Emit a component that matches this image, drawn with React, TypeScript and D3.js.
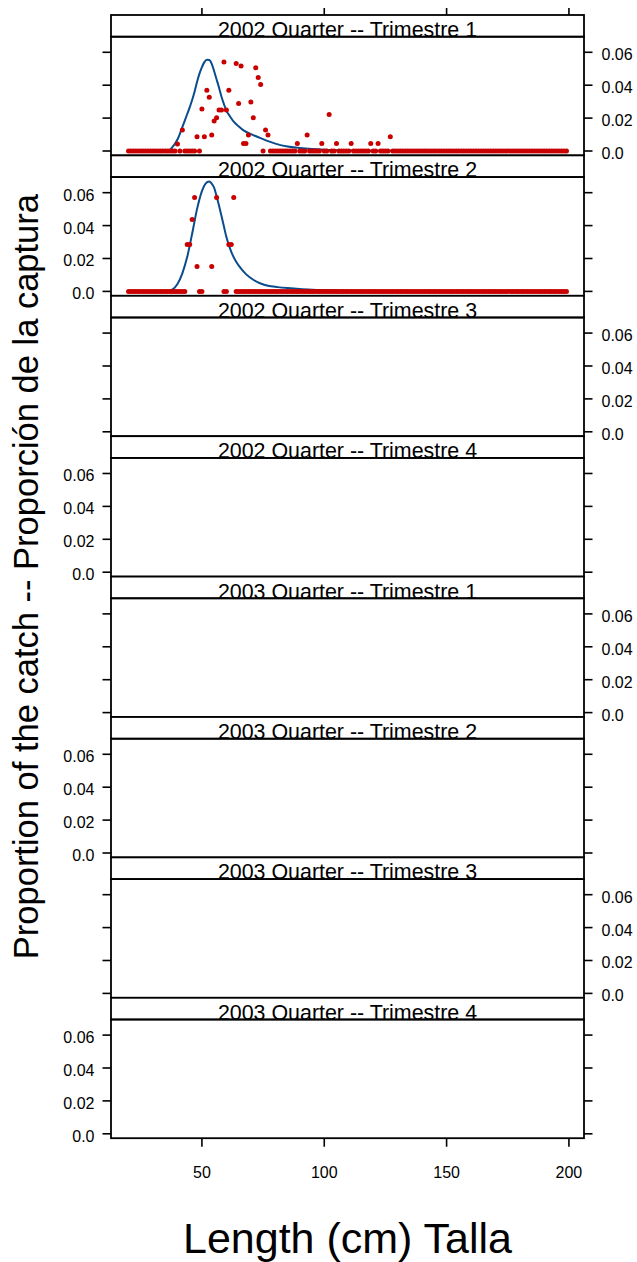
import React from "react";
import * as d3 from "d3";

// ---------- data ----------
const panelTitles = [
  "2002 Quarter -- Trimestre 1",
  "2002 Quarter -- Trimestre 2",
  "2002 Quarter -- Trimestre 3",
  "2002 Quarter -- Trimestre 4",
  "2003 Quarter -- Trimestre 1",
  "2003 Quarter -- Trimestre 2",
  "2003 Quarter -- Trimestre 3",
  "2003 Quarter -- Trimestre 4",
];

const lengthExtent: [number, number] = [20, 199];
const xTicks = [50, 100, 150, 200];
const yTicks = [0, 0.02, 0.04, 0.06];
const yTickLabels = ["0.0", "0.02", "0.04", "0.06"];

// observed proportions (non-zero) by length, 2002 Q1
const obs2002Q1: [number, number][] = [
  [40, 0.0043], [42, 0.0127], [48, 0.0087], [50, 0.0255], [51, 0.0087],
  [52, 0.037], [53, 0.0326], [54, 0.0097], [55, 0.0183], [56, 0.0202],
  [57, 0.0249], [58, 0.0249], [59, 0.0541], [60, 0.0249], [61, 0.037],
  [64, 0.0532], [65, 0.0289], [66, 0.0516], [67, 0.0045], [68, 0.0045],
  [69, 0.0097], [70, 0.0298], [71, 0.0202], [72, 0.0506], [73, 0.0447],
  [74, 0.0404], [76, 0.0127], [77, 0.0097], [89, 0.0045], [93, 0.0097],
  [99, 0.0045], [102, 0.0222], [105, 0.0045], [111, 0.0045], [119, 0.0045],
  [122, 0.0045], [127, 0.0087],
];
// lengths with observed proportion 0 (inclusive ranges), 2002 Q1
const zeros2002Q1: [number, number][] = [
  [20, 39], [41, 41], [43, 47], [49, 49], [75, 75], [78, 88], [90, 92],
  [94, 98], [100, 101], [103, 104], [106, 110], [112, 118], [120, 121],
  [123, 126], [128, 199],
];
// fitted proportion, 2002 Q1
const fit2002Q1: [number, number][] = [
  [20, 0], [33, 0], [35, 0.0002], [37, 0.0008], [38, 0.0025], [39, 0.0045],
  [40, 0.007], [41, 0.0105], [42, 0.0145], [43, 0.0185], [44, 0.0225],
  [45, 0.0265], [46, 0.031], [47, 0.036], [48, 0.042], [49, 0.047],
  [50, 0.051], [51, 0.054], [52, 0.0555], [53, 0.0553], [54, 0.053],
  [55, 0.0485], [56, 0.0435], [57, 0.0385], [58, 0.033], [59, 0.0285],
  [60, 0.0245], [61.5, 0.021], [63, 0.0178], [65, 0.015], [67, 0.0125],
  [71, 0.0097], [74, 0.0078], [77, 0.006], [80, 0.0045], [85, 0.0027],
  [90, 0.0018], [95, 0.0012], [100, 0.0008], [110, 0.0004], [120, 0.0002],
  [140, 0.0001], [160, 0], [199, 0],
];

const obs2002Q2: [number, number][] = [
  [44, 0.0285], [45, 0.0285], [46, 0.0437], [47, 0.0571], [48, 0.0152],
  [54, 0.0152], [56, 0.0571], [61, 0.0285], [62, 0.0285], [63, 0.0571],
];
const zeros2002Q2: [number, number][] = [[20, 43], [49, 50], [59, 60], [64, 199]];
const fit2002Q2: [number, number][] = [
  [20, 0], [34, 0], [36, 0.0003], [38, 0.0012], [40, 0.0045], [42, 0.011],
  [44, 0.021], [46, 0.035], [48, 0.05], [50, 0.061], [52, 0.0663],
  [53, 0.0668], [54, 0.0655], [55, 0.063], [56, 0.0578], [57, 0.052],
  [58, 0.0458], [59, 0.0394], [60, 0.033], [62, 0.024], [64, 0.018],
  [66, 0.0138], [68, 0.0105], [71, 0.0071], [74, 0.0048], [77, 0.0034],
  [81, 0.0026], [85, 0.002], [90, 0.0014], [95, 0.001], [105, 0.0005],
  [120, 0.0002], [150, 0], [199, 0],
];

const xTitle = "Length (cm) Talla";
const yTitle = "Proportion of the catch -- Proporción de la captura";

// ---------- layout ----------
const W = 637;
const H = 1262;
const LEFT = 111;
const RIGHT = 584;
const TOP = 15;
const STRIP_H = 21.7;
const BODY_H = 118.7;
const PERIOD = STRIP_H + BODY_H;
const TICK = 8.5;
const FONT = "'Liberation Sans', Arial, Helvetica, sans-serif";
const RED = "#c80000";
const BLUE = "#0b4c8c";

function expandZeros(ranges: [number, number][]): [number, number][] {
  const out: [number, number][] = [];
  ranges.forEach(([a, b]) => d3.range(a, b + 1).forEach((l) => out.push([l, 0])));
  return out;
}

const panels = panelTitles.map((title, i) => {
  if (i === 0) return { title, obs: [...expandZeros(zeros2002Q1), ...obs2002Q1], fit: fit2002Q1 };
  if (i === 1) return { title, obs: [...expandZeros(zeros2002Q2), ...obs2002Q2], fit: fit2002Q2 };
  return { title, obs: [] as [number, number][], fit: [] as [number, number][] };
});

export default function App() {
  const xPad = (lengthExtent[1] - lengthExtent[0]) * 0.04;
  const x = d3
    .scaleLinear()
    .domain([lengthExtent[0] - xPad, lengthExtent[1] + xPad])
    .range([LEFT, RIGHT]);

  const allVals = [
    ...panels.flatMap((p) => p.obs.map((d) => d[1])),
    ...panels.flatMap((p) => p.fit.map((d) => d[1])),
  ];
  const vMax = d3.max(allVals) as number;
  const vMin = 0;
  const yPad = (vMax - vMin) * 0.04;

  const bottom = TOP + PERIOD * panels.length;

  return (
    <svg width={W} height={H} style={{ display: "block", position: "absolute", left: 0, top: 0, background: "#fff" }} fontFamily={FONT}>
      <rect width={W} height={H} fill="#fff" />
      <defs>
        {panels.map((_, i) => (
          <clipPath id={`strip${i}`} key={i}>
            <rect x={LEFT} y={TOP + i * PERIOD} width={RIGHT - LEFT} height={STRIP_H} />
          </clipPath>
        ))}
      </defs>
      {panels.map((p, i) => {
        const stripTop = TOP + i * PERIOD;
        const bodyTop = stripTop + STRIP_H;
        const bodyBottom = bodyTop + BODY_H;
        const y = d3
          .scaleLinear()
          .domain([vMin - yPad, vMax + yPad])
          .range([bodyBottom, bodyTop]);
        const line = d3
          .line<[number, number]>()
          .x((d) => x(d[0]))
          .y((d) => y(d[1]))
          .curve(d3.curveMonotoneX);
        const labelsLeft = i % 2 === 1;
        return (
          <g key={i}>
            {p.fit.length > 0 && (
              <path d={line(p.fit) || ""} fill="none" stroke={BLUE} strokeWidth={2} />
            )}
            {/* points */}
            {p.obs.map((d, k) => (
              <circle key={k} cx={x(d[0])} cy={y(d[1])} r={2.5} fill={RED} />
            ))}
            {/* strip */}
            <rect x={LEFT} y={stripTop} width={RIGHT - LEFT} height={STRIP_H} fill="#fff" stroke="none" />
            <g clipPath={`url(#strip${i})`}>
              <text
                x={(LEFT + RIGHT) / 2}
                y={stripTop + STRIP_H + 0.3}
                textAnchor="middle"
                fontSize={21.4}
                fill="#000"
              >
                {p.title}
              </text>
            </g>
            <rect x={LEFT} y={stripTop} width={RIGHT - LEFT} height={STRIP_H} fill="none" stroke="#000" strokeWidth={1.8} />
            {/* panel frame */}
            <rect x={LEFT} y={bodyTop} width={RIGHT - LEFT} height={BODY_H} fill="none" stroke="#000" strokeWidth={1.8} />
            {/* y ticks */}
            {yTicks.map((t, k) => (
              <g key={k}>
                <line x1={LEFT - TICK} x2={LEFT} y1={y(t)} y2={y(t)} stroke="#000" strokeWidth={1.6} />
                <line x1={RIGHT} x2={RIGHT + TICK} y1={y(t)} y2={y(t)} stroke="#000" strokeWidth={1.6} />
                {labelsLeft ? (
                  <text x={LEFT - TICK - 8} y={y(t) + 8} textAnchor="end" fontSize={16} fill="#000">
                    {yTickLabels[k]}
                  </text>
                ) : (
                  <text x={RIGHT + TICK + 9} y={y(t) + 8} textAnchor="start" fontSize={16} fill="#000">
                    {yTickLabels[k]}
                  </text>
                )}
              </g>
            ))}
          </g>
        );
      })}
      {/* top ticks */}
      {xTicks.map((t) => (
        <line key={`tt${t}`} x1={x(t)} x2={x(t)} y1={TOP - 7} y2={TOP} stroke="#000" strokeWidth={1.6} />
      ))}
      {/* bottom ticks + labels */}
      {xTicks.map((t) => (
        <g key={`bt${t}`}>
          <line x1={x(t)} x2={x(t)} y1={bottom} y2={bottom + TICK} stroke="#000" strokeWidth={1.6} />
          <text x={x(t)} y={bottom + 40} textAnchor="middle" fontSize={16} fill="#000">
            {t}
          </text>
        </g>
      ))}
      {/* axis titles */}
      <text x={(LEFT + RIGHT) / 2} y={1253} textAnchor="middle" fontSize={43} fill="#000">
        {xTitle}
      </text>
      <text
        transform={`translate(38, ${(TOP + bottom) / 2}) rotate(-90)`}
        textAnchor="middle"
        fontSize={34.5}
        fill="#000"
      >
        {yTitle}
      </text>
    </svg>
  );
}
